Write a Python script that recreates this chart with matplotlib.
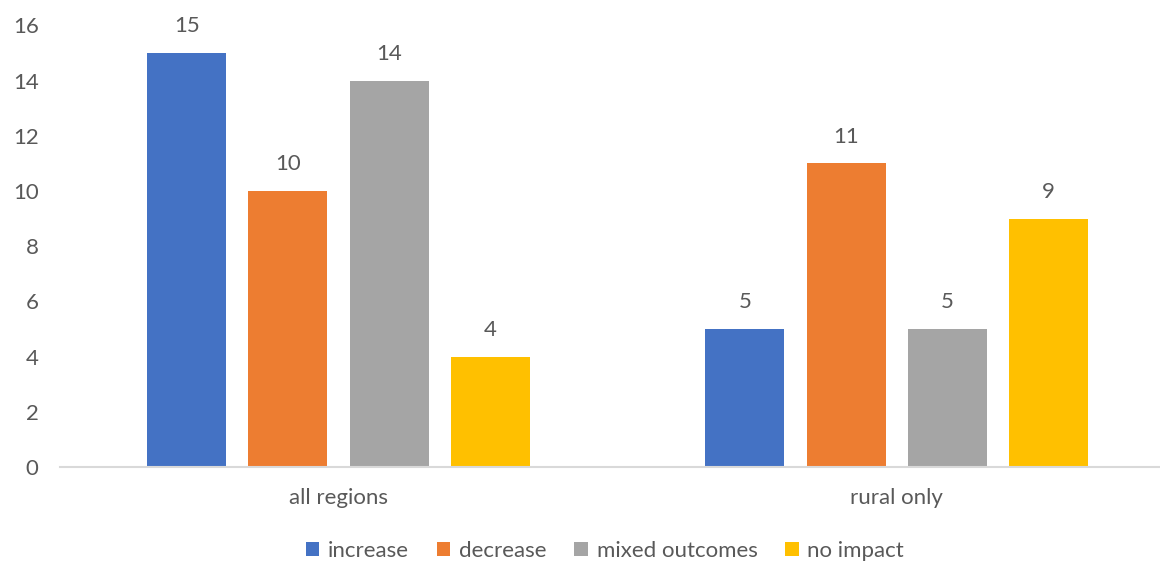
import matplotlib
matplotlib.use("Agg")
import matplotlib.pyplot as plt
import numpy as np

categories = ["all regions", "rural only"]
series_names = ["increase", "decrease", "mixed outcomes", "no impact"]
increase = [15, 5]
decrease = [10, 11]
mixed_outcomes = [14, 5]
no_impact = [4, 9]
y_ticks = [0, 2, 4, 6, 8, 10, 12, 14, 16]

series_values = [increase, decrease, mixed_outcomes, no_impact]
colors = ["#4472C4", "#ED7D31", "#A5A5A5", "#FFC000"]
text_color = "#595959"
fs = 16

plt.rcParams["font.family"] = ["Lato", "DejaVu Sans"]

W, H = 1160, 563
fig = plt.figure(figsize=(W / 100, H / 100), dpi=100)
left, right = 59.5 / W, 1176 / W
bottom, top = 1 - 467 / H, 1 - 25.4 / H
ax = fig.add_axes([left, bottom, right - left, top - bottom])

x = np.arange(len(categories))
bar_w = 0.1415
step = 0.1814
offsets = (np.arange(len(series_names)) - 1.5) * step

handles = []
for name, vals, col, off in zip(series_names, series_values, colors, offsets):
    bars = ax.bar(x + off, vals, width=bar_w, color=col, label=name, zorder=3)
    handles.append(bars)
    for b, v in zip(bars, vals):
        ax.annotate(str(v), (b.get_x() + b.get_width() / 2, v),
                    xytext=(0, 12), textcoords="offset points",
                    ha="center", va="bottom", fontsize=fs, color=text_color)

ax.set_xlim(-0.5, 1.5)
ax.set_ylim(0, 16)
ax.set_yticks(y_ticks)
ax.set_xticks(x)
ax.set_xticklabels(categories)
ax.tick_params(axis="both", length=0, labelsize=fs, labelcolor=text_color)
ax.tick_params(axis="y", pad=15)
ax.tick_params(axis="x", pad=15)
for s in ["top", "right", "left"]:
    ax.spines[s].set_visible(False)
ax.spines["bottom"].set_color("#D9D9D9")
ax.spines["bottom"].set_linewidth(1.5)
ax.spines["bottom"].set_zorder(4)

fig.legend(handles=handles, labels=series_names, loc="center",
           bbox_to_anchor=(605 / W, 1 - 551 / H), ncol=4, frameon=False,
           fontsize=fs, labelcolor=text_color, handlelength=0.6,
           handleheight=0.6, handletextpad=0.4, columnspacing=1.25)

fig.savefig("out.png", dpi=100)
